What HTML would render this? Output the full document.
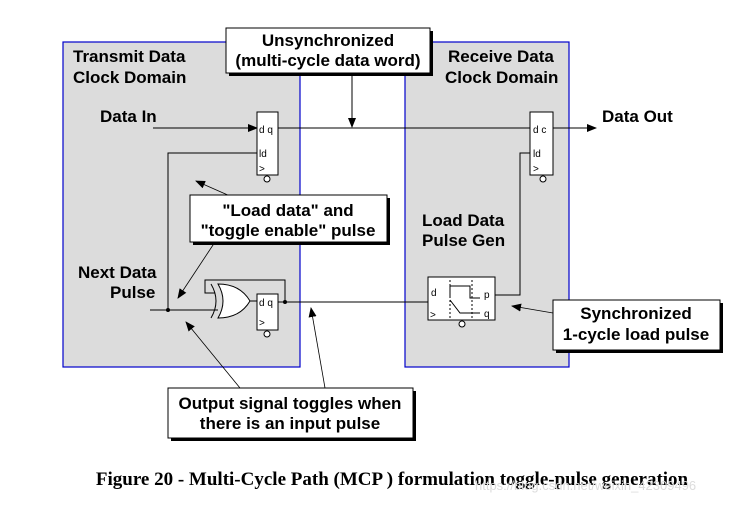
<!DOCTYPE html>
<html><head><style>
body{margin:0;background:#fff;width:745px;height:504px;overflow:hidden}
svg text{font-family:"Liberation Sans",sans-serif;font-weight:bold;font-size:17px;fill:#000}
svg text.s{font-weight:normal;font-size:10px}
</style></head><body>
<svg width="745" height="504" viewBox="0 0 745 504" xmlns="http://www.w3.org/2000/svg">
<defs><marker id="a" markerWidth="10" markerHeight="10" refX="9" refY="5" orient="auto" markerUnits="userSpaceOnUse"><path d="M0,1 L10,5 L0,9 z" fill="#000"/></marker></defs>
<rect x="63" y="42" width="237" height="325" fill="#dcdcdc" stroke="#0000cc" stroke-width="1.2"/>
<rect x="405" y="42" width="164" height="325" fill="#dcdcdc" stroke="#0000cc" stroke-width="1.2"/>
<text x="73" y="62">Transmit Data</text><text x="73" y="83">Clock Domain</text>
<text x="448" y="62">Receive Data</text><text x="445" y="83">Clock Domain</text>
<text x="100" y="122">Data In</text>
<text x="602" y="122">Data Out</text>
<text x="78" y="278">Next Data</text><text x="110" y="298">Pulse</text>
<text x="422" y="226">Load Data</text><text x="422" y="246">Pulse Gen</text>
<g stroke="#000" stroke-width="1" fill="none">
<line x1="153" y1="128" x2="257" y2="128" marker-end="url(#a)"/>
<line x1="278" y1="128" x2="530" y2="128"/>
<line x1="553" y1="128" x2="596" y2="128" marker-end="url(#a)"/>
<polyline points="257,153 168,153 168,310"/>
<line x1="150" y1="310" x2="218" y2="310"/>
<polyline points="285,302 285,280 205,280 205,293 215,293"/>
<line x1="278" y1="302" x2="428" y2="302"/>
<polyline points="495,295 520,295 520,153 530,153"/>
<line x1="352" y1="73" x2="352" y2="127" marker-end="url(#a)"/>
</g>
<circle cx="168" cy="310" r="2" fill="#000"/><circle cx="285" cy="302" r="2" fill="#000"/>
<g fill="#fff" stroke="#000">
<rect x="257" y="112" width="21" height="63"/>
<rect x="530" y="112" width="23" height="63"/>
<rect x="257" y="294" width="21" height="36"/>
<rect x="428" y="277" width="67" height="43"/>
<circle cx="267" cy="179" r="3"/><circle cx="543" cy="179" r="3"/><circle cx="267" cy="334" r="3"/><circle cx="462" cy="324" r="3"/>
</g>
<text class="s" x="259" y="133">d q</text><text class="s" x="259" y="157">ld</text><text class="s" x="259" y="172">&gt;</text>
<text class="s" x="533" y="133">d c</text><text class="s" x="533" y="157">ld</text><text class="s" x="533" y="172">&gt;</text>
<text class="s" x="259" y="306">d q</text><text class="s" x="259" y="326">&gt;</text>
<text class="s" x="431" y="296">d</text><text class="s" x="484" y="298">p</text><text class="s" x="484" y="317">q</text><text class="s" x="430" y="318">&gt;</text>
<g stroke="#000" fill="none">
<path d="M450,298 V286 H470 V298 H480"/><path d="M450,300 L460,313 H480"/>
<line x1="450" y1="280" x2="450" y2="318" stroke-dasharray="2,2"/><line x1="472" y1="280" x2="472" y2="318" stroke-dasharray="2,2"/>
</g>
<g stroke="#000" fill="#fff">
<path d="M218,284 Q240,284 250,301 Q240,318 218,318 Q228,301 218,284 z"/>
<path d="M211,284 Q221,301 211,318" fill="none"/>
</g>
<line x1="250" y1="301" x2="257" y2="301" stroke="#000"/>
<g stroke="#000" stroke-width="0.8" fill="none">
<line x1="230" y1="196" x2="196" y2="181" marker-end="url(#a)"/>
<line x1="215" y1="242" x2="178" y2="298" marker-end="url(#a)"/>
<line x1="553" y1="313" x2="512" y2="306" marker-end="url(#a)"/>
<line x1="240" y1="388" x2="186" y2="322" marker-end="url(#a)"/>
<line x1="325" y1="388" x2="311" y2="308" marker-end="url(#a)"/>
</g>
<g fill="#000"><rect x="229" y="31" width="204" height="45"/><rect x="193" y="198" width="197" height="47"/><rect x="556" y="303" width="167" height="50"/><rect x="171" y="391" width="245" height="50"/></g>
<g fill="#fff" stroke="#000"><rect x="226" y="28" width="204" height="45"/><rect x="190" y="195" width="197" height="47"/><rect x="553" y="300" width="167" height="50"/><rect x="168" y="388" width="245" height="50"/></g>
<text x="328" y="46" text-anchor="middle">Unsynchronized</text><text x="328" y="66" text-anchor="middle">(multi-cycle data word)</text>
<text x="288" y="216" text-anchor="middle">"Load data" and</text><text x="288" y="236" text-anchor="middle">"toggle enable" pulse</text>
<text x="636" y="319" text-anchor="middle">Synchronized</text><text x="636" y="340" text-anchor="middle">1-cycle load pulse</text>
<text x="290" y="409" text-anchor="middle">Output signal toggles when</text><text x="290" y="429" text-anchor="middle">there is an input pulse</text>
<text x="392" y="485" text-anchor="middle" style="font-family:'Liberation Serif',serif;font-size:19px">Figure 20 - Multi-Cycle Path (MCP ) formulation toggle-pulse generation</text>
<text x="475" y="490" style="font-weight:normal;font-size:13px;fill:#dcdcdc">https://blog.csdn.net/weixin_42309496</text>
</svg>
</body></html>
